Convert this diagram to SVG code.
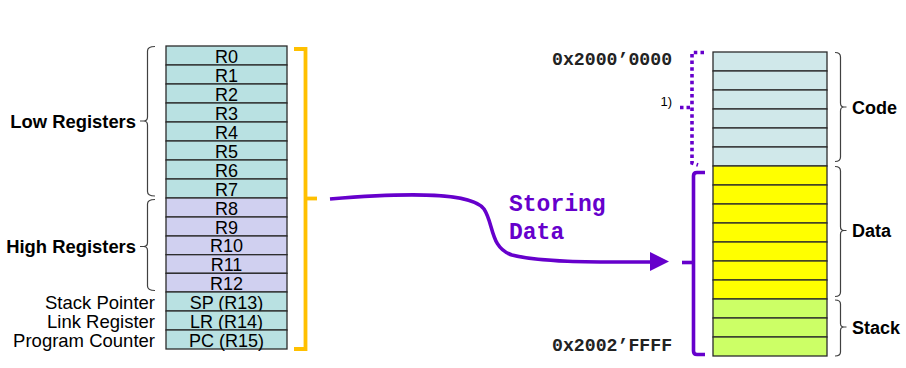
<svg xmlns="http://www.w3.org/2000/svg" width="906" height="368" viewBox="0 0 906 368">
  <defs>
    <style>
      .reg { stroke: #2b2b2b; stroke-width: 1.3; }
      .lo { fill: #b9e1e2; }
      .hi { fill: #d0d0f0; }
      .code { fill: #d0e8ea; }
      .data { fill: #ffff00; }
      .stack { fill: #ccff66; }
      .rt { font-family: "Liberation Sans", Arial, sans-serif; font-size: 18px; fill: #000; text-anchor: middle; }
      .side { font-family: "Liberation Sans", Arial, sans-serif; font-size: 18.5px; fill: #000; text-anchor: end; }
      .bold { font-family: "Liberation Sans", Arial, sans-serif; font-size: 18px; font-weight: bold; fill: #000; }
      .grp { font-size: 18.4px; text-anchor: end; }
      .addr { font-family: "Liberation Mono", "Courier New", monospace; font-size: 18.2px; font-weight: bold; fill: #222; }
      .brace { fill: none; stroke: #404040; stroke-width: 1.2; }
      .purple { fill: none; stroke: #6600cc; stroke-width: 3.6; }
      .mono { font-family: "Liberation Mono", "Courier New", monospace; font-size: 23px; font-weight: bold; fill: #6600cc; }
    </style>
  </defs>

  <!-- register file -->
  <g id="registers">
    <g id="r0"><rect class="reg lo" x="166" y="46" width="121" height="19"/><text class="rt" x="226.5" y="62.5">R0</text></g>
    <g id="r1"><rect class="reg lo" x="166" y="65" width="121" height="19"/><text class="rt" x="226.5" y="81.5">R1</text></g>
    <g id="r2"><rect class="reg lo" x="166" y="84" width="121" height="19"/><text class="rt" x="226.5" y="100.5">R2</text></g>
    <g id="r3"><rect class="reg lo" x="166" y="103" width="121" height="19"/><text class="rt" x="226.5" y="119.5">R3</text></g>
    <g id="r4"><rect class="reg lo" x="166" y="122" width="121" height="19"/><text class="rt" x="226.5" y="138.5">R4</text></g>
    <g id="r5"><rect class="reg lo" x="166" y="141" width="121" height="19"/><text class="rt" x="226.5" y="157.5">R5</text></g>
    <g id="r6"><rect class="reg lo" x="166" y="160" width="121" height="19"/><text class="rt" x="226.5" y="176.5">R6</text></g>
    <g id="r7"><rect class="reg lo" x="166" y="179" width="121" height="19"/><text class="rt" x="226.5" y="195.5">R7</text></g>
    <g id="r8"><rect class="reg hi" x="166" y="198" width="121" height="19"/><text class="rt" x="226.5" y="214.5">R8</text></g>
    <g id="r9"><rect class="reg hi" x="166" y="217" width="121" height="19"/><text class="rt" x="226.5" y="233.5">R9</text></g>
    <g id="r10"><rect class="reg hi" x="166" y="236" width="121" height="18.7"/><text class="rt" x="226.5" y="252.3">R10</text></g>
    <g id="r11"><rect class="reg hi" x="166" y="254.7" width="121" height="18.6"/><text class="rt" x="226.5" y="271">R11</text></g>
    <g id="r12"><rect class="reg hi" x="166" y="273.3" width="121" height="18.7"/><text class="rt" x="226.5" y="289.6">R12</text></g>
    <g id="sp"><rect class="reg lo" x="166" y="292" width="121" height="19"/><text class="rt" x="226.5" y="308.5">SP (R13)</text></g>
    <g id="lr"><rect class="reg lo" x="166" y="311" width="121" height="19"/><text class="rt" x="226.5" y="327.5">LR (R14)</text></g>
    <g id="pc"><rect class="reg lo" x="166" y="330" width="121" height="19"/><text class="rt" x="226.5" y="346.5">PC (R15)</text></g>
  </g>

  <!-- register group labels -->
  <g id="low-registers">
    <path class="brace" d="M155 46.5 Q147.5 46.5 147.5 51 L147.5 117 Q147.5 121 143.5 121 L140 121 M143.5 121 Q147.5 121 147.5 125 L147.5 191.5 Q147.5 196 155 196"/>
    <text class="bold grp" x="136" y="128">Low Registers</text>
  </g>
  <g id="high-registers">
    <path class="brace" d="M155 199.5 Q147.5 199.5 147.5 204 L147.5 242.5 Q147.5 246.5 143.5 246.5 L140 246.5 M143.5 246.5 Q147.5 246.5 147.5 250.5 L147.5 286 Q147.5 290.5 155 290.5"/>
    <text class="bold grp" x="136" y="253">High Registers</text>
  </g>
  <g id="special-labels">
    <text class="side" x="155" y="309">Stack Pointer</text>
    <text class="side" x="155" y="328">Link Register</text>
    <text class="side" x="155" y="347">Program Counter</text>
  </g>

  <!-- memory map -->
  <g id="memory">
    <g id="code-rows">
      <rect class="reg code" x="713" y="52" width="114" height="19"/>
      <rect class="reg code" x="713" y="71" width="114" height="19"/>
      <rect class="reg code" x="713" y="90" width="114" height="19"/>
      <rect class="reg code" x="713" y="109" width="114" height="19"/>
      <rect class="reg code" x="713" y="128" width="114" height="19"/>
      <rect class="reg code" x="713" y="147" width="114" height="19"/>
    </g>
    <g id="data-rows">
      <rect class="reg data" x="713" y="166" width="114" height="19"/>
      <rect class="reg data" x="713" y="185" width="114" height="19"/>
      <rect class="reg data" x="713" y="204" width="114" height="19"/>
      <rect class="reg data" x="713" y="223" width="114" height="19"/>
      <rect class="reg data" x="713" y="242" width="114" height="19"/>
      <rect class="reg data" x="713" y="261" width="114" height="19"/>
      <rect class="reg data" x="713" y="280" width="114" height="19"/>
    </g>
    <g id="stack-rows">
      <rect class="reg stack" x="713" y="299" width="114" height="19"/>
      <rect class="reg stack" x="713" y="318" width="114" height="19"/>
      <rect class="reg stack" x="713" y="337" width="114" height="19"/>
    </g>
  </g>

  <!-- memory region labels -->
  <g id="code-label">
    <path class="brace" d="M835 52.5 Q840.5 52.5 840.5 57 L840.5 103 Q840.5 107 844 107 L846.5 107 M844 107 Q840.5 107 840.5 111 L840.5 157 Q840.5 161.5 835 161.5"/>
    <text class="bold" x="852" y="114">Code</text>
  </g>
  <g id="data-label">
    <path class="brace" d="M835 166.5 Q840.5 166.5 840.5 171 L840.5 226.5 Q840.5 230.5 844 230.5 L846.5 230.5 M844 230.5 Q840.5 230.5 840.5 234.5 L840.5 292 Q840.5 296.5 835 296.5"/>
    <text class="bold" x="852" y="237">Data</text>
  </g>
  <g id="stack-label">
    <path class="brace" d="M835 300 Q840.5 300 840.5 304 L840.5 323.5 Q840.5 327 844 327 L846.5 327 M844 327 Q840.5 327 840.5 330.5 L840.5 352 Q840.5 356 835 356"/>
    <text class="bold" x="852" y="334">Stack</text>
  </g>

  <!-- address labels -->
  <g id="addresses">
    <text class="addr" x="552" y="65">0x2000’0000</text>
    <text class="addr" x="552" y="351">0x2002’FFFF</text>
  </g>

  <!-- note marker on the code region -->
  <g id="code-bracket">
    <path class="purple" stroke-dasharray="3.5 3.2" d="M704 52.5 L692 52.5 L692 163 L698 165"/>
    <path class="purple" stroke-dasharray="3.5 3" d="M680 107.5 L692 107.5"/>
    <text x="672" y="106" font-family="Liberation Sans, Arial, sans-serif" font-size="13" text-anchor="end" fill="#000">1)</text>
  </g>

  <!-- data and stack target bracket -->
  <g id="ram-bracket">
    <path class="purple" d="M705 172.5 L697 172.5 Q693.5 172.5 693.5 176 L693.5 351 Q693.5 354.5 697 354.5 L705 354.5"/>
    <path class="purple" d="M682 262.5 L693.5 262.5"/>
  </g>

  <!-- register file bracket -->
  <g id="register-bracket">
    <path fill="none" stroke="#ffc000" stroke-width="3.8" d="M294 49 L305.5 49 L305.5 349 L294 349"/>
    <path fill="none" stroke="#ffc000" stroke-width="3.8" d="M305.5 198.5 L317 198.5"/>
  </g>

  <!-- store transfer arrow -->
  <g id="connectors">
    <path class="purple" stroke-width="3.8" d="M330 199 C415 192 472 193 484 209 C494 224 490 248 512 255 C545 263 600 262 652 262"/>
    <polygon fill="#6600cc" points="650,252 669,261.5 650,271"/>
    <text class="mono" x="509" y="211">Storing</text>
    <text class="mono" x="509" y="239">Data</text>
  </g>
</svg>
